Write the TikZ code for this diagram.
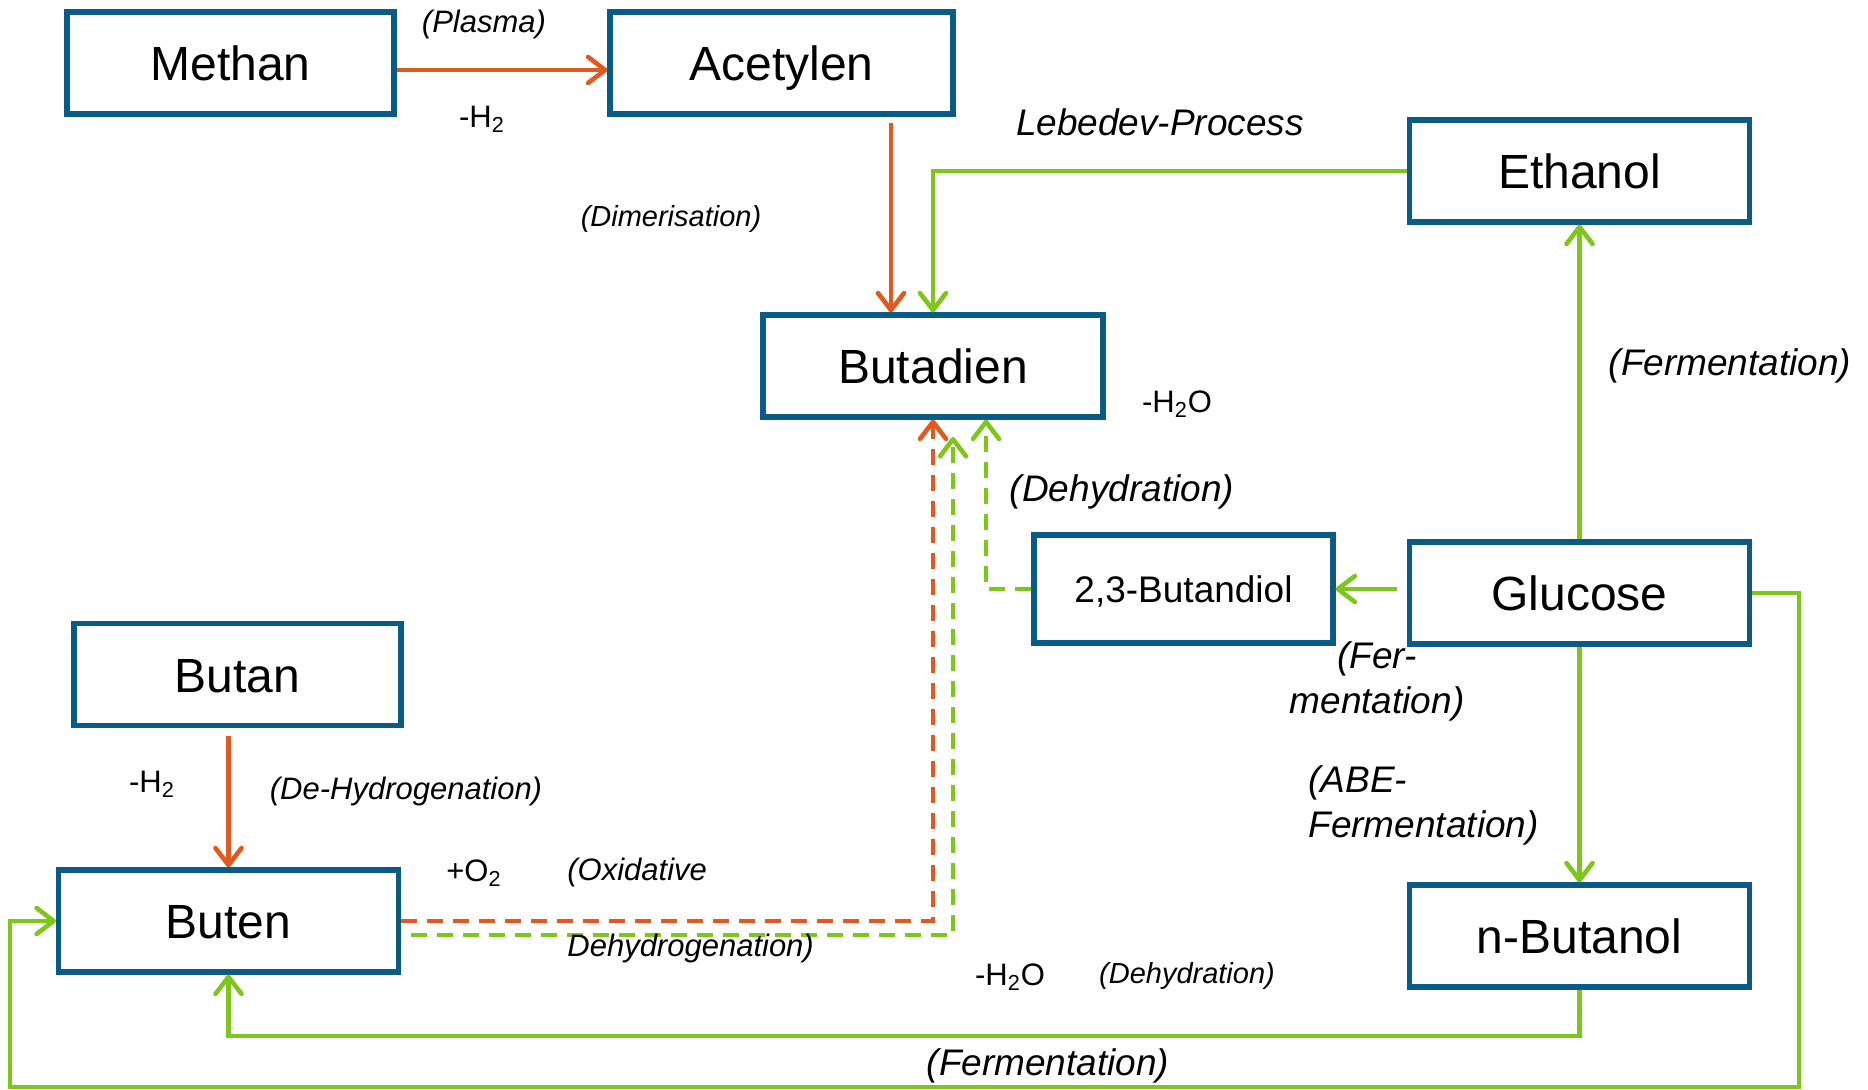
\documentclass[tikz,border=0pt]{standalone}
\usepackage{fontspec}
\setmainfont{Liberation Sans}
\usetikzlibrary{arrows.meta,positioning,calc}
\definecolor{boxblue}{HTML}{0B5B86}
\definecolor{orng}{HTML}{E2591D}
\definecolor{grn}{HTML}{7DC71A}

\begin{document}
\begin{tikzpicture}[
    x=0.5pt,y=-0.5pt,
    obj/.style={rectangle,draw=boxblue,line width=2.6pt,fill=white,minimum width=170pt,
                minimum height=51pt,inner sep=0pt,text height=17.5pt,text depth=0pt,
                font=\fontsize{24}{28}\selectfont},
    arr/.style={line width=2.3pt,-{Straight Barb[length=8.5pt,width=13pt,line cap=round,line join=round]}},
    oarr/.style={arr,orng},
    garr/.style={arr,grn},
    dsh/.style={dash pattern=on 8pt off 5pt},
    lbl/.style={inner sep=0pt,font=\fontsize{15.5}{18}\selectfont},
    slbl/.style={inner sep=0pt,font=\fontsize{15.5}{18}\selectfont\itshape},
    ilbl/.style={inner sep=0pt,font=\fontsize{18.5}{22.5}\selectfont\itshape}
  ]
    \useasboundingbox (0,0) rectangle (1868,1090);

    \node[obj,minimum width=163.5pt] (Me) at (230.5,63) {Methan};
    \node[obj,minimum width=171.5pt] (Ac) at (781.5,63) {Acetylen};
    \node[obj] (Et) at (1579.5,171) {Ethanol};
    \node[obj] (Bd) at (933,366) {Butadien};
    \node[obj,minimum width=149.5pt,minimum height=54pt,text height=13.5pt,
          font=\fontsize{18.5}{22}\selectfont] (Bdiol) at (1183.5,589) {2,3-Butandiol};
    \node[obj] (Gl) at (1579.5,593) {Glucose};
    \node[obj,minimum width=163.5pt] (Ba) at (237.5,674.5) {Butan};
    \node[obj] (Be) at (228.5,921) {Buten};
    \node[obj] (nB) at (1579.5,936) {n-Butanol};

    \coordinate (ox) at (891,0);
    \coordinate (dx) at (986,0);
    \coordinate (gtip) at (953,437);
    \coordinate (ybot) at (0,1036);
    \coordinate (loopR) at (1799,1087);
    \coordinate (loopL) at (10,1087);

    \draw[oarr] ([yshift=-3.5pt]Me.east) -- ([yshift=-3.5pt]Ac.west);
    \draw[oarr,shorten <=3pt] (Ac.south -| ox) -- (Bd.north -| ox);
    \draw[garr] (Et.west) -| (Bd.north);
    \draw[garr] (Gl.north) -- (Et.south);
    \draw[garr,shorten <=5pt] (Gl.west |- Bdiol.east) -- (Bdiol.east);
    \draw[garr,dsh] (Bdiol.west) -| (Bd.south -| dx);
    \draw[oarr,dsh] (Be.east) -| (Bd.south);
    \draw[garr,dsh] ([xshift=5pt,yshift=-7pt]Be.east) -| (gtip);
    \draw[oarr,shorten <=4pt] (Be.north |- Ba.south) -- (Be.north);
    \draw[garr] (Gl.south) -- (nB.north);
    \draw[garr] (nB.south) |- (Be.south |- ybot) -- (Be.south);
    \draw[garr] (Gl.east) -| (loopR) -- (loopL) |- (Be.west);

    \node[slbl] (lPlasma) at (484,24) {(Plasma)};
    \node[lbl] (lH2a) at (482,119) {-H\textsubscript{2}};
    \node[slbl,font=\fontsize{14.5}{17}\selectfont\itshape] (lDimer) at (671,219) {(Dimerisation)};
    \node[ilbl] (lLebedev) at (1160,122) {Lebedev-Process};
    \node[ilbl] (lFermEt) at (1730,366) {(Fermentation)};
    \node[lbl] (lH2Oa) at (1177,404) {-H\textsubscript{2}O};
    \node[ilbl] (lDehyd) at (1122,492) {(Dehydration)};
    \node[ilbl,align=center] (lFermDiol) at (1377,681) {(Fer-\\mentation)};
    \node[ilbl,align=left,anchor=west] (lABE) at (1308,805) {(ABE-\\Fermentation)};
    \node[lbl] (lH2b) at (152,784) {-H\textsubscript{2}};
    \node[slbl] (lDeHyd) at (406,791) {(De-Hydrogenation)};
    \node[lbl] (lO2) at (474,873) {+O\textsubscript{2}};
    \node[slbl,anchor=west] (lOxid) at (567,872) {(Oxidative};
    \node[slbl,anchor=west] (lOxidB) at (567,948) {Dehydrogenation)};
    \node[lbl] (lH2Ob) at (1010,977) {-H\textsubscript{2}O};
    \node[slbl,font=\fontsize{14.5}{17}\selectfont\itshape] (lDehydB) at (1187,976) {(Dehydration)};
    \node[ilbl] (lFermB) at (1048,1066) {(Fermentation)};

  \end{tikzpicture}
\end{document}
